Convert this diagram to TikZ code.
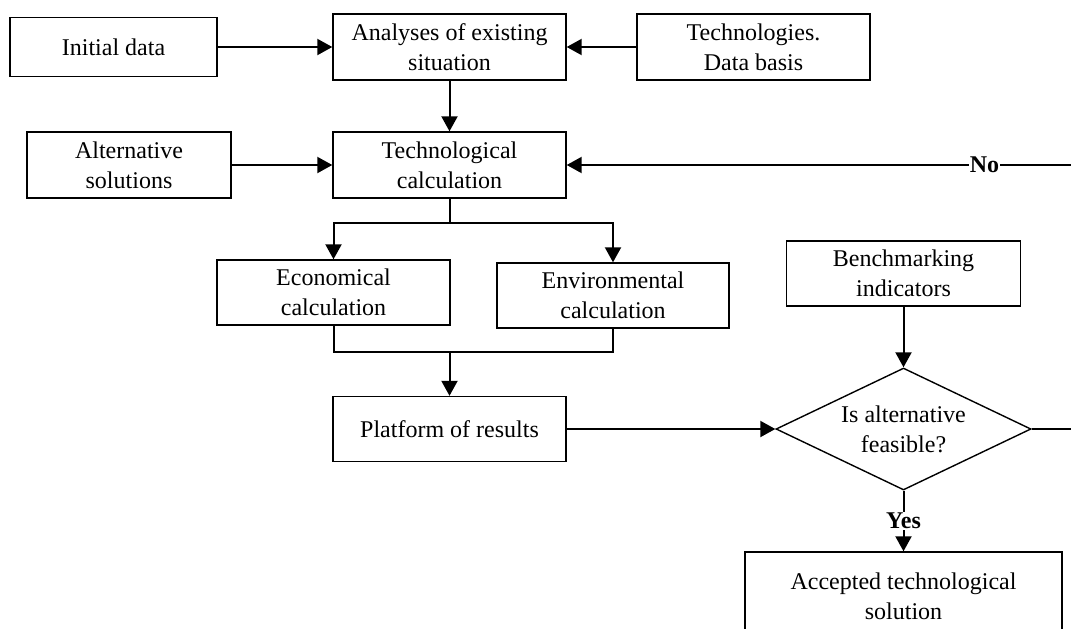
\documentclass[tikz,border=0pt]{standalone}
\usepackage{fontspec}
\setmainfont{Liberation Serif}
\usetikzlibrary{arrows.meta,shapes.geometric}

\begin{document}
\begin{tikzpicture}
% Flowchart laid out on a pixel grid
\def\pxsz{0.5pt}
\providecommand{\flowLineWidth}{1pt}
\providecommand{\flowBoxLineWidth}{0.7pt}
\tikzset{
  flowbox/.style={draw, line width=\flowBoxLineWidth, align=center, inner sep=0pt,
    font=\fontsize{12}{15}\selectfont},
  flowdecide/.style={flowbox, diamond, aspect=2},
  flowline/.style={line width=\flowLineWidth},
  flowarrow/.style={flowline, -{Triangle[length=7.5pt,width=8pt]}},
  flowtag/.style={fill=white, inner sep=0.5pt, font=\fontsize{12}{15}\selectfont\bfseries},
}
\begin{scope}[x=\pxsz, y=-\pxsz, line join=miter]
  \useasboundingbox (0,0) rectangle (1071,628);
  \clip (0,0) rectangle (1071,628);
  % Boxes
  \node[flowbox, minimum width={207*\pxsz}, minimum height={59*\pxsz}] (init) at (113.5,47) {Initial data};
  \node[flowbox, minimum width={233*\pxsz}, minimum height={66*\pxsz}] (analyses) at (449.5,47) {Analyses of existing\\situation};
  \node[flowbox, minimum width={233*\pxsz}, minimum height={66*\pxsz}] (techdata) at (753.5,47) {Technologies.\\Data basis};
  \node[flowbox, minimum width={204*\pxsz}, minimum height={66*\pxsz}] (altsol) at (129,165) {Alternative\\solutions};
  \node[flowbox, minimum width={233*\pxsz}, minimum height={66*\pxsz}] (techcalc) at (449.5,165) {Technological\\calculation};
  \node[flowbox, minimum width={233*\pxsz}, minimum height={65*\pxsz}] (econ) at (333.5,292.5) {Economical\\calculation};
  \node[flowbox, minimum width={232*\pxsz}, minimum height={65*\pxsz}] (envir) at (613,295.5) {Environmental\\calculation};
  \node[flowbox, minimum width={234*\pxsz}, minimum height={65*\pxsz}] (bench) at (903.5,273.5) {Benchmarking\\indicators};
  \node[flowbox, minimum width={233*\pxsz}, minimum height={65*\pxsz}] (platform) at (449.5,429) {Platform of results};
  \node[flowdecide, minimum width={255*\pxsz}, minimum height={122*\pxsz}] (decide) at (903.5,429) {Is alternative\\feasible?};
  \node[flowbox, minimum width={317*\pxsz}, minimum height={88*\pxsz}] (accepted) at (903.5,596) {Accepted technological\\solution};
  % Helper points
  \coordinate (split) at (449.5,223);
  \coordinate (merge) at (449.5,352);
  \coordinate (loopback) at (1080,429);
  % Connectors
  \draw[flowarrow] (init) -- (analyses);
  \draw[flowarrow] (techdata) -- (analyses);
  \draw[flowarrow] (analyses) -- (techcalc);
  \draw[flowarrow] (altsol) -- (techcalc);
  \draw[flowline] (techcalc.south) -- (split);
  \draw[flowarrow] (split) -| (econ.north);
  \draw[flowarrow] (split) -| (envir.north);
  \draw[flowline] (econ.south) |- (merge);
  \draw[flowline] (envir.south) |- (merge);
  \draw[flowarrow] (merge) -- (platform.north);
  \draw[flowarrow] (platform) -- (decide);
  \draw[flowarrow] (bench) -- (decide);
  \draw[flowarrow] (decide.south) -- node[flowtag] {Yes} (accepted.north);
  \draw[flowarrow] (decide.east) -- (loopback) |- node[flowtag, pos=0.593] {No} (techcalc.east);
\end{scope}
\end{tikzpicture}
\end{document}
